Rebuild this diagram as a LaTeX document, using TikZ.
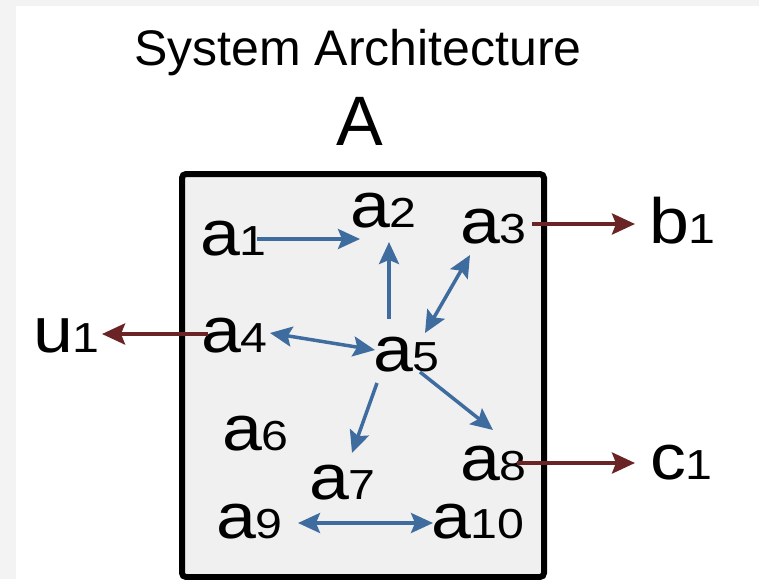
\documentclass[tikz,border=0pt]{standalone}
\usepackage{fontspec}
\setmainfont{Liberation Sans}
\newfontfamily\lblfont[FakeStretch=1.12]{Liberation Sans}
\newfontfamily\digfont[FakeStretch=1.15]{Liberation Sans}
\usetikzlibrary{arrows.meta,calc}
\definecolor{flowblue}{HTML}{3F6C9F}
\definecolor{extred}{HTML}{6B2426}
\definecolor{boxfill}{HTML}{F0F0F0}
\definecolor{edgegray}{HTML}{F3F3F3}
% element label: large letter followed by its index
\newcommand\elemlabel[2]{{\lblfont\fontsize{64}{64}\selectfont #1}{\digfont\fontsize{42}{42}\selectfont #2}}
\tikzset{
  elem/.style={anchor=base west, inner sep=0pt, outer sep=0pt},
  flow/.style={draw=flowblue, line width=3.5pt, -{Stealth[length=22pt,width=20pt,inset=4pt]}},
  flowboth/.style={flow, {Stealth[length=22pt,width=20pt,inset=4pt]}-{Stealth[length=22pt,width=20pt,inset=4pt]}},
  ext/.style={draw=extred, line width=4pt, -{Stealth[length=23pt,width=21pt,inset=4pt]}},
  sysbox/.style={draw=black, line width=6pt, fill=boxfill, rounded corners=4pt}
}
\begin{document}
\begin{tikzpicture}[x=1pt, y=-1pt]
  \useasboundingbox (0,0) rectangle (759,579);
  % page background with a faint grey edge
  \fill[edgegray] (0,0) rectangle (759,579);
  \fill[white] (16,6) rectangle (759,579);

  % title and system name
  \node[anchor=base, inner sep=0pt] (title) at (358,65) {\fontsize{50}{50}\selectfont System Architecture};
  \node[anchor=base, inner sep=0pt] (sysname) at (360,145) {\fontsize{70}{70}\selectfont A};

  % system boundary
  \node[sysbox, minimum width=362pt, minimum height=403pt, anchor=north west, inner sep=0pt] (sys) at (179,171) {};

  % internal elements
  \node[elem] (a1)  at (200,255) {\elemlabel{a}{1}};
  \node[elem] (a2)  at (350,227) {\elemlabel{a}{2}};
  \node[elem] (a3)  at (460,243) {\elemlabel{a}{3}};
  \node[elem] (a4)  at (201,352) {\elemlabel{a}{4}};
  \node[elem] (a5)  at (373,371) {\elemlabel{a}{5}};
  \node[elem] (a6)  at (222,450) {\elemlabel{a}{6}};
  \node[elem] (a7)  at (309,499) {\elemlabel{a}{7}};
  \node[elem] (a8)  at (460,480) {\elemlabel{a}{8}};
  \node[elem] (a9)  at (216,538) {\elemlabel{a}{9}};
  \node[elem] (a10) at (431,538) {\elemlabel{a}{10}};

  % external elements
  \node[elem] (u1) at (33,352)  {\elemlabel{u}{1}};
  \node[elem] (b1) at (649,243) {\elemlabel{b}{1}};
  \node[elem] (c1) at (650,479) {\elemlabel{c}{1}};

  % internal flows
  \draw[flow]     ($(a1.base west)+(57,-16)$) -- ($(a2.base west)+(10,12)$);
  \draw[flow]     ($(a5.base west)+(16,-52)$) -- ($(a2.base west)+(39,15)$);
  \draw[flowboth] ($(a5.base west)+(52,-38)$) -- ($(a3.base west)+(10,12)$);
  \draw[flowboth] ($(a4.base west)+(69,-19)$) -- ($(a5.base west)+(2,-21)$);
  \draw[flow]     ($(a5.base west)+(4,12)$)   -- ($(a7.base west)+(43,-46)$);
  \draw[flow]     ($(a5.base west)+(47,1)$)   -- ($(a8.base west)+(33,-50)$);
  \draw[flowboth] ($(a9.base west)+(82,-15)$) -- ($(a10.base west)+(2,-15)$);

  % flows leaving the system
  \draw[ext] ($(a3.base west)+(72,-19)$) -- ($(b1.base west)+(-14,-19)$);
  \draw[ext] ($(a8.base west)+(57,-17)$) -- ($(c1.base west)+(-15,-16)$);
  \draw[ext] ($(a4.base west)+(7,-18)$)  -- ($(u1.base west)+(69,-18)$);
\end{tikzpicture}
\end{document}
